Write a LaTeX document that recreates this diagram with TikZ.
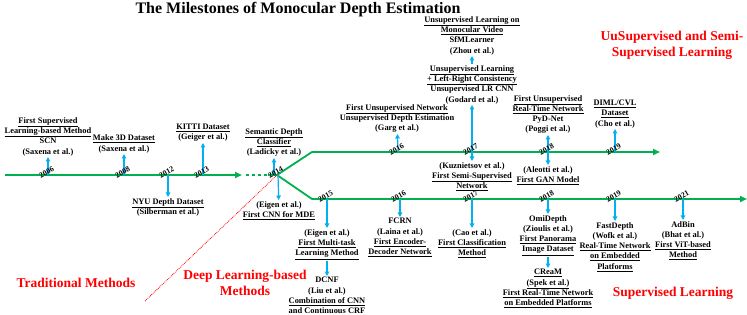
\documentclass[tikz,border=0pt]{standalone}
\usepackage{fontspec}
\setmainfont{Liberation Serif}
\usetikzlibrary{arrows.meta}
\definecolor{verdelinea}{RGB}{0,176,80}
\definecolor{azulflecha}{RGB}{0,176,240}
\begin{document}
\begin{tikzpicture}[x=1pt,y=-1pt,
    linea/.style={verdelinea, line width=1.8pt},
    flecha/.style={azulflecha, line width=1.2pt, -{Triangle[length=4.5pt,width=4.5pt]}},
    hito/.style={font=\bfseries\fontsize{8.4}{10.3}\selectfont, align=center, inner sep=1pt},
    anio/.style={font=\bfseries\fontsize{7.8}{8}\selectfont, rotate=28, inner sep=0pt},
    rotulo/.style={font=\bfseries\fontsize{13.5}{16}\selectfont, red, align=center}]
  \useasboundingbox (0,0) rectangle (747,315);
  % Titulo
  \node[font=\bfseries\fontsize{16}{18}\selectfont] (titulo) at (298,10) {The Milestones of Monocular Depth Estimation};
  % Puntos de las lineas de tiempo
  \coordinate (inicio) at (5,175);
  \coordinate (finppal) at (242,175);
  \coordinate (t2006) at (48,175);
  \coordinate (t2008) at (124,175);
  \coordinate (t2012) at (168,175);
  \coordinate (t2013) at (203,175);
  \coordinate (t2014) at (277,175);
  \coordinate (codosup) at (312,152);
  \coordinate (codoinf) at (312,199);
  \coordinate (finsup) at (660,152);
  \coordinate (fininf) at (747,199);
  \coordinate (u2016) at (398,152);
  \coordinate (u2017) at (472,152);
  \coordinate (u2018) at (548,152);
  \coordinate (u2019) at (615,152);
  \coordinate (l2015) at (327,199);
  \coordinate (l2016) at (400,199);
  \coordinate (l2017) at (472,199);
  \coordinate (l2018) at (548,199);
  \coordinate (l2019) at (615,199);
  \coordinate (l2021) at (683,199);
  % Linea principal y ramas
  \draw[linea, -{Triangle[length=7pt,width=6pt]}] (inicio) -- (finppal);
  \draw[linea, dashed] (246,175) -- (268,175);
  \draw[linea] (268,175) -- (t2014);
  \draw[linea, -{Triangle[length=7pt,width=6pt]}] (t2014) -- (codosup) -- (finsup);
  \draw[linea, -{Triangle[length=7pt,width=6pt]}] (t2014) -- (codoinf) -- (fininf);
  % Frontera entre metodos
  \coordinate (frontera) at (145,301);
  \draw[red, densely dotted, thick] (frontera) -- (t2014);
  % Metodos tradicionales
  \node[hito, anchor=south] (scn) at (48,157) {\underline{First Supervised}\\\underline{Learning-based Method}\\SCN\\(Saxena et al.)};
  \node[hito, anchor=south] (make3d) at (124,154) {\underline{Make 3D Dataset}\\(Saxena et al.)};
  \node[hito, anchor=north] (nyu) at (168,197) {\underline{NYU Depth Dataset}\\(Silberman et al.)};
  \node[hito, anchor=south] (kitti) at (203,143) {\underline{KITTI Dataset}\\(Geiger et al.)};
  \node[hito, anchor=south] (ladicky) at (274,158) {\underline{Semantic Depth}\\\underline{Classifier}\\(Ladicky et al.)};
  \node[hito, anchor=north] (eigen) at (279,200) {(Eigen et al.)\\\underline{First CNN for MDE}};
  \draw[flecha] (t2006) -- (scn);
  \draw[flecha] (t2008) -- (make3d);
  \draw[flecha] (t2012) -- (nyu);
  \draw[flecha] (t2013) -- (kitti);
  \draw[flecha] ([xshift=-3pt]t2014) -- (ladicky);
  \draw[flecha] ([xshift=1pt]t2014) -- (eigen);
  % Rama no supervisada y semi-supervisada
  \node[hito, anchor=south] (garg) at (397,134) {\underline{First Unsupervised Network}\\Unsupervised Depth Estimation\\(Garg et al.)};
  \node[hito, anchor=south] (godard) at (472,105) {\underline{Unsupervised Learning}\\\underline{+ Left-Right Consistency}\\Unsupervised LR CNN\\(Godard et al.)};
  \node[hito, anchor=south] (zhou) at (472,56) {\underline{Unsupervised Learning on}\\\underline{Monocular Video}\\SfMLearner\\(Zhou et al.)};
  \node[hito, anchor=north] (kuznietsov) at (472,161) {(Kuznietsov et al.)\\\underline{First Semi-Supervised}\\\underline{Network}};
  \node[hito, anchor=south] (poggi) at (548,135) {\underline{First Unsupervised}\\\underline{Real-Time Network}\\PyD-Net\\(Poggi et al.)};
  \node[hito, anchor=north] (aleotti) at (548,165) {(Aleotti et al.)\\\underline{First GAN Model}};
  \node[hito, anchor=south] (cho) at (615,129) {\underline{DIML/CVL}\\\underline{Dataset}\\(Cho et al.)};
  \draw[flecha] (u2016) -- (garg);
  \draw[flecha] (u2017) -- (godard);
  \draw[flecha] (godard) -- (zhou);
  \draw[flecha] (u2017) -- (kuznietsov);
  \draw[flecha] (u2018) -- (poggi);
  \draw[flecha] (u2018) -- (aleotti);
  \draw[flecha] (u2019) -- (cho);
  % Rama supervisada
  \node[hito, anchor=north] (eigenmt) at (327,228) {(Eigen et al.)\\\underline{First Multi-task}\\\underline{Learning Method}};
  \node[hito, anchor=north] (dcnf) at (327,276) {DCNF\\(Liu et al.)\\\underline{Combination of CNN}\\\underline{and Continuous CRF}};
  \node[hito, anchor=north] (fcrn) at (400,217) {FCRN\\(Laina et al.)\\\underline{First Encoder-}\\\underline{Decoder Network}};
  \node[hito, anchor=north] (cao) at (472,228) {(Cao et al.)\\\underline{First Classification}\\\underline{Method}};
  \node[hito, anchor=north] (omidepth) at (548,214) {OmiDepth\\(Zioulis et al.)\\\underline{First Panorama}\\\underline{Image Dataset}};
  \node[hito, anchor=north] (cream) at (548,268) {\underline{CReaM}\\\underline{(Spek et al.)}\\\underline{First Real-Time Network}\\\underline{on Embedded Platforms}};
  \node[hito, anchor=north] (fastdepth) at (615,221) {FastDepth\\(Wofk et al.)\\\underline{Real-Time Network}\\\underline{on Embedded}\\\underline{Platforms}};
  \node[hito, anchor=north] (adbin) at (683,220) {AdBin\\(Bhat et al.)\\\underline{First ViT-based}\\\underline{Method}};
  \draw[flecha] (l2015) -- (eigenmt);
  \draw[flecha] (eigenmt) -- (dcnf);
  \draw[flecha] (l2016) -- (fcrn);
  \draw[flecha] (l2017) -- (cao);
  \draw[flecha] (l2018) -- (omidepth);
  \draw[flecha] (omidepth) -- (cream);
  \draw[flecha] (l2019) -- (fastdepth);
  \draw[flecha] (l2021) -- (adbin);
  % Anios
  \foreach \c/\a in {t2006/2006, t2008/2008, t2012/2012, t2013/2013, t2014/2014,
      u2016/2016, u2017/2017, u2018/2018, u2019/2019,
      l2015/2015, l2016/2016, l2017/2017, l2018/2018, l2019/2019, l2021/2021}
    \node[anio, yshift=3pt] (n\c) at (\c) {\a};
  % Rotulos
  \node[rotulo] (semisup) at (672,45) {UuSupervised and Semi-\\Supervised Learning};
  \node[rotulo] (sup) at (673,293) {Supervised Learning};
  \node[rotulo] (trad) at (76,283) {Traditional Methods};
  \node[rotulo] (deep) at (245,283) {Deep Learning-based\\Methods};
\end{tikzpicture}
\end{document}
